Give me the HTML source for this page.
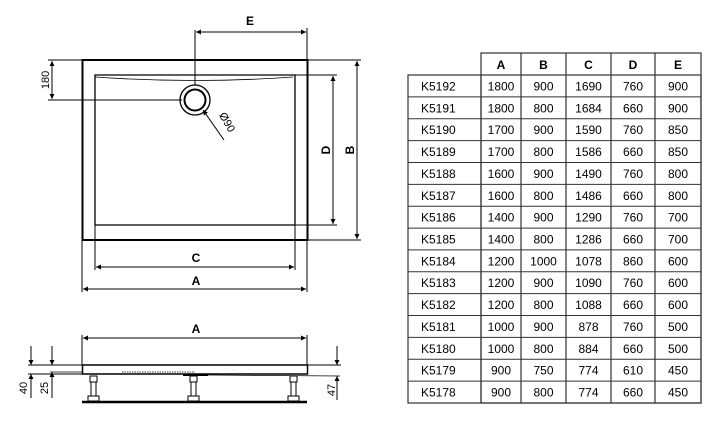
<!DOCTYPE html>
<html><head><meta charset="utf-8">
<style>
html,body{margin:0;padding:0;background:#fff;}
svg{display:block;}
text{font-family:"Liberation Sans",Arial,sans-serif;fill:#000;}
</style></head>
<body>
<svg width="720" height="423" viewBox="0 0 720 423" xmlns="http://www.w3.org/2000/svg">
<defs>
<marker id="ar" viewBox="0 0 10 10" refX="10" refY="5" markerWidth="7" markerHeight="5" orient="auto-start-reverse" markerUnits="userSpaceOnUse">
<path d="M0,0 L10,5 L0,10 z" fill="#000"/>
</marker>
</defs>
<g stroke="#000" fill="none" stroke-width="1">
<!-- top view -->
<rect x="82.5" y="60" width="225" height="180" stroke-width="2"/>
<path d="M95,75 L295,75 L295,225 L95,225 Z" stroke-width="1.3"/>
<path d="M95,77 Q195,84 293,77" stroke-width="0.8"/>
<circle cx="195" cy="100" r="15" stroke-width="1.3"/>
<circle cx="195" cy="100" r="10.5" stroke-width="2"/>
<!-- E -->
<line x1="195" y1="30" x2="195" y2="85"/>
<line x1="307" y1="28" x2="307" y2="60"/>
<line x1="196" y1="32" x2="306" y2="32" marker-start="url(#ar)" marker-end="url(#ar)"/>
<!-- 180 -->
<line x1="48" y1="60" x2="82" y2="60"/>
<line x1="48" y1="100" x2="182" y2="100"/>
<line x1="52" y1="61" x2="52" y2="99" marker-start="url(#ar)" marker-end="url(#ar)"/>
<!-- dia90 leader -->
<line x1="224" y1="140" x2="203" y2="110" marker-end="url(#ar)"/>
<!-- D -->
<line x1="295" y1="75" x2="337" y2="75"/>
<line x1="295" y1="225" x2="337" y2="225"/>
<line x1="333" y1="76" x2="333" y2="224" marker-start="url(#ar)" marker-end="url(#ar)"/>
<!-- B -->
<line x1="307" y1="60" x2="361" y2="60"/>
<line x1="307" y1="240" x2="361" y2="240"/>
<line x1="357" y1="61" x2="357" y2="239" marker-start="url(#ar)" marker-end="url(#ar)"/>
<!-- C -->
<line x1="95" y1="225" x2="95" y2="270"/>
<line x1="295" y1="225" x2="295" y2="270"/>
<line x1="96" y1="267" x2="294" y2="267" marker-start="url(#ar)" marker-end="url(#ar)"/>
<!-- A -->
<line x1="82" y1="240" x2="82" y2="292"/>
<line x1="307" y1="240" x2="307" y2="292"/>
<line x1="83" y1="289" x2="306" y2="289" marker-start="url(#ar)" marker-end="url(#ar)"/>

<!-- side view -->
<line x1="82" y1="335" x2="82" y2="365"/>
<line x1="307" y1="335" x2="307" y2="365"/>
<line x1="83" y1="338" x2="306" y2="338" marker-start="url(#ar)" marker-end="url(#ar)"/>
<rect x="82.5" y="365" width="225" height="9" stroke-width="1.5"/>
<line x1="122" y1="372" x2="195" y2="372" stroke-dasharray="1.5,1" stroke-width="0.8"/>
<line x1="183" y1="375" x2="208" y2="375" stroke-width="2"/>
<line x1="208" y1="375" x2="340" y2="376" stroke-width="0.8"/>
<line x1="82" y1="402" x2="307" y2="402" stroke-width="2.5"/>
<g stroke-width="1">
<rect x="90" y="376" width="7" height="6"/><rect x="91" y="382" width="5" height="14"/><rect x="88" y="396" width="11" height="5"/>
<rect x="190" y="376" width="7" height="6"/><rect x="191" y="382" width="5" height="14"/><rect x="188" y="396" width="11" height="5"/>
<rect x="290" y="376" width="7" height="6"/><rect x="291" y="382" width="5" height="14"/><rect x="288" y="396" width="11" height="5"/>
</g>
<!-- left dims -->
<line x1="28" y1="365" x2="82" y2="365"/>
<line x1="28" y1="374" x2="82" y2="374"/>
<line x1="50" y1="372" x2="82" y2="372" stroke-width="0.8"/>
<line x1="31" y1="346" x2="31" y2="365" marker-end="url(#ar)"/>
<line x1="31" y1="398" x2="31" y2="374" marker-end="url(#ar)"/>
<line x1="52" y1="346" x2="52" y2="365" marker-end="url(#ar)"/>
<line x1="52" y1="398" x2="52" y2="372" marker-end="url(#ar)"/>
<!-- right dims -->
<line x1="307" y1="365" x2="341" y2="365"/>
<line x1="337" y1="346" x2="337" y2="365" marker-end="url(#ar)"/>
<line x1="337" y1="400" x2="337" y2="376" marker-end="url(#ar)"/>

<!-- table -->
<g stroke="#333" stroke-width="1.2">
<rect x="481" y="53" width="220" height="350"/>
<rect x="408" y="75" width="293" height="328"/>
<line x1="521" y1="53" x2="521" y2="403"/>
<line x1="566" y1="53" x2="566" y2="403"/>
<line x1="611" y1="53" x2="611" y2="403"/>
<line x1="655" y1="53" x2="655" y2="403"/>
<line x1="481" y1="75" x2="481" y2="403"/>
</g>
<g stroke="#333" stroke-width="1" id="hl"></g>
</g>

<g font-size="12" font-weight="bold" text-anchor="middle">
<text x="250" y="25">E</text>
<text x="196" y="262">C</text>
<text x="196" y="285">A</text>
<text x="196" y="333">A</text>
<text transform="translate(330,150) rotate(-90)">D</text>
<text transform="translate(354,150) rotate(-90)">B</text>
</g>
<g font-size="11" text-anchor="middle">
<text transform="translate(49,80) rotate(-90)">180</text>
<text transform="translate(224,124) rotate(60)">Ø90</text>
<text transform="translate(27,388) rotate(-90)">40</text>
<text transform="translate(48,388) rotate(-90)">25</text>
<text transform="translate(335,390) rotate(-90)">47</text>
</g>

<g font-size="12" text-anchor="middle" id="tbl">
<text x="501" y="69" font-weight="bold">A</text>
<text x="543.5" y="69" font-weight="bold">B</text>
<text x="588.5" y="69" font-weight="bold">C</text>
<text x="633" y="69" font-weight="bold">D</text>
<text x="678" y="69" font-weight="bold">E</text>
</g>
<script>
(function(){
var rows=[["K5192",1800,900,1690,760,900],["K5191",1800,800,1684,660,900],["K5190",1700,900,1590,760,850],["K5189",1700,800,1586,660,850],["K5188",1600,900,1490,760,800],["K5187",1600,800,1486,660,800],["K5186",1400,900,1290,760,700],["K5185",1400,800,1286,660,700],["K5184",1200,1000,1078,860,600],["K5183",1200,900,1090,760,600],["K5182",1200,800,1088,660,600],["K5181",1000,900,878,760,500],["K5180",1000,800,884,660,500],["K5179",900,750,774,610,450],["K5178",900,800,774,660,450]];
var ns="http://www.w3.org/2000/svg",t=document.getElementById("tbl"),hl=document.getElementById("hl");
var cx=[421,501,543.5,588.5,633,678],h=328/15;
rows.forEach(function(r,i){
 var y=75+h*i;
 if(i>0){var l=document.createElementNS(ns,"line");l.setAttribute("x1",408);l.setAttribute("x2",701);l.setAttribute("y1",y);l.setAttribute("y2",y);hl.appendChild(l);}
 r.forEach(function(v,j){var e=document.createElementNS(ns,"text");e.setAttribute("x",cx[j]);e.setAttribute("y",y+h/2+4.5);if(j==0)e.setAttribute("text-anchor","start");e.textContent=v;t.appendChild(e);});
});
})();
</script>
</svg>
</body></html>
